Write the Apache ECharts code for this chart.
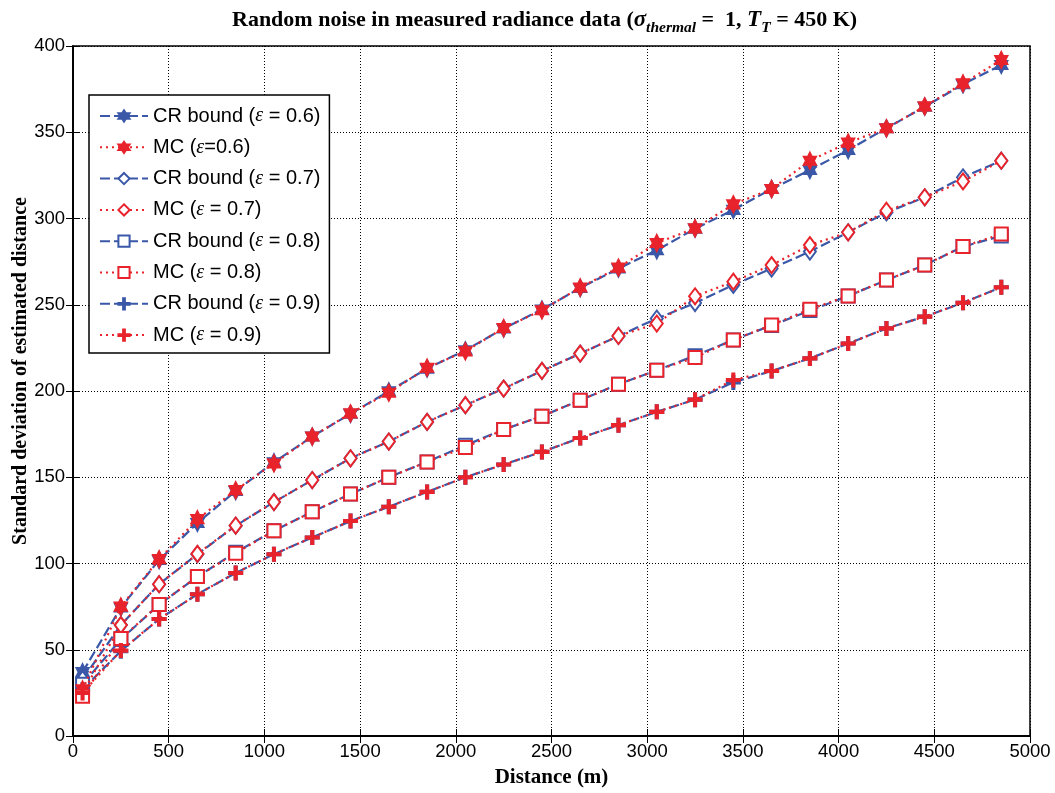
<!DOCTYPE html>
<html>
<head>
<meta charset="utf-8">
<script src="https://cdn.jsdelivr.net/npm/echarts@6/dist/echarts.min.js"></script>
<style>
  html, body { margin: 0; padding: 0; background: #fff; }
  #chart { width: 1055px; height: 793px; }
</style>
</head>
<body>
<div id="chart"></div>
<script>
  // distances (m)
  var distance = [50, 250, 450, 650, 850, 1050, 1250, 1450, 1650, 1850, 2050, 2250, 2450,
                  2650, 2850, 3050, 3250, 3450, 3650, 3850, 4050, 4250, 4450, 4650, 4850];

  var cr06 = [37, 74.5, 102, 123.5, 142, 158.7, 173.6, 186.8, 199.8, 213, 223.6, 236.2, 247.2,
              259.7, 271, 281.6, 294.1, 305, 317.1, 328.1, 339.7, 352.3, 364.8, 377.8, 389];
  var mc06 = [27, 75, 102.5, 125.7, 142.5, 158, 173.6, 187, 199, 213.5, 223, 236.5, 246.8,
              260, 271.5, 285.8, 294.3, 308.2, 317.1, 333.5, 344, 352.3, 365, 378.3, 391.9];
  var cr07 = [33, 64.3, 88, 105.4, 121.9, 135.6, 148.4, 161, 170.7, 182.1, 191.8, 201.4, 211.7,
              221.7, 231.9, 242, 251, 261.5, 271, 280.8, 292, 303.5, 312.3, 323.9, 333.5];
  var mc07 = [25, 64.3, 88, 105.6, 122, 135.6, 148.4, 161, 170.7, 182.1, 191.8, 201.4, 211.7,
              221.7, 231.9, 239.1, 254.9, 263.4, 273, 284.6, 292, 304.5, 312.3, 321.5, 333.5];
  var cr08 = [30, 56, 76.2, 92.4, 106.5, 119, 130, 140.3, 150, 158.9, 168.5, 177.7, 185.4,
              194.7, 203.9, 212, 220.5, 229.6, 238, 246.6, 255.1, 264.3, 273, 283.7, 289.9];
  var mc08 = [23, 56.5, 76.2, 92.4, 106, 119, 130, 140.3, 150, 158.9, 167.3, 177.7, 185.4,
              194.7, 203.9, 212, 219.4, 229.6, 238.3, 247.4, 255.1, 264.3, 273, 283.7, 291];
  var cr09 = [27, 49.2, 67.8, 82.2, 94.5, 105.4, 115.1, 124.6, 132.9, 141.5, 150, 157.4, 164.7,
              172.8, 180.2, 187.9, 195, 205, 211.6, 218.9, 227.5, 236.3, 243.1, 251.2, 260.1];
  var mc09 = [25, 49.5, 67.8, 82.2, 94.5, 105.4, 115.1, 124.6, 132.9, 141.5, 150, 157.4, 164.7,
              172.8, 180.2, 187.9, 195, 206.4, 211.6, 218.9, 227.5, 236.3, 243.1, 251.2, 260.1];

  var seriesNames = ['CR bound (ε = 0.6)', 'MC (ε=0.6)', 'CR bound (ε = 0.7)', 'MC (ε = 0.7)',
                     'CR bound (ε = 0.8)', 'MC (ε = 0.8)', 'CR bound (ε = 0.9)', 'MC (ε = 0.9)'];
  var seriesValues = [cr06, mc06, cr07, mc07, cr08, mc08, cr09, mc09];

  var xTicks = [0, 500, 1000, 1500, 2000, 2500, 3000, 3500, 4000, 4500, 5000];
  var yTicks = [0, 50, 100, 150, 200, 250, 300, 350, 400];

  var BLUE = '#3b58a8';
  var RED = '#e8232b';
  var star = 'path://M100,0L128.9,50L186.6,50L157.7,100L186.6,150L128.9,150L100,200L71.1,150L13.4,150L42.3,100L13.4,50L71.1,50Z';
  var plus = 'path://M42,0H58V42H100V58H58V100H42V58H0V42H42Z';
  var symbols = [star, star, 'emptyDiamond', 'emptyDiamond', 'emptyRect', 'emptyRect', plus, plus];
  var symbolSizes = [[14, 16], [14, 16], [12, 16], [12, 16], 13, 13, 13, 13];

  var myChart = echarts.init(document.getElementById('chart'));

  function pairs(vals) {
    var out = [];
    for (var i = 0; i < vals.length; i++) out.push([distance[i], vals[i]]);
    return out;
  }

  var series = [];
  for (var k = 0; k < seriesNames.length; k++) {
    var isMC = k % 2 === 1;
    var col = isMC ? RED : BLUE;
    series.push({
      name: seriesNames[k],
      type: 'line',
      data: pairs(seriesValues[k]),
      symbol: symbols[k],
      symbolSize: symbolSizes[k],
      symbolKeepAspect: true,
      showAllSymbol: true,
      lineStyle: { color: col, width: 2.2, type: isMC ? [2, 4] : [10, 4] },
      itemStyle: { color: col, borderColor: col, borderWidth: 2 },
      animation: false,
      z: isMC ? 3 : 2
    });
  }

  var serif = 'Liberation Serif';
  var sans = 'Liberation Sans';
  var plain = function(v) { return String(v); };

  var option = {
    backgroundColor: '#fff',
    title: {
      text: '{t|Random noise in measured radiance data (}{s|σ}{sub|thermal}{t| =  1, }{s|T}{sub|T}{t| = 450 K)}',
      left: 232,
      top: 4,
      padding: 0,
      textStyle: {
        rich: {
          t: { fontFamily: serif, fontWeight: 'bold', fontSize: 22, color: '#000', lineHeight: 24, verticalAlign: 'middle' },
          s: { fontFamily: serif, fontWeight: 'bold', fontStyle: 'italic', fontSize: 23, color: '#000', lineHeight: 24, verticalAlign: 'middle' },
          sub: { fontFamily: serif, fontWeight: 'bold', fontStyle: 'italic', fontSize: 15.5, color: '#000', lineHeight: 32, verticalAlign: 'bottom' }
        }
      }
    },
    legend: {
      orient: 'vertical',
      left: 89,
      top: 95,
      data: seriesNames,
      itemWidth: 48,
      itemHeight: 14,
      itemGap: 11.3,
      padding: [11, 9, 8, 10],
      backgroundColor: '#fff',
      borderColor: '#000',
      borderWidth: 1.5,
      borderRadius: 0,
      formatter: function(name) { return name.replace('ε', '{e|ε}'); },
      textStyle: {
        fontFamily: sans,
        fontSize: 20,
        lineHeight: 20,
        color: '#000',
        rich: {
          e: { fontFamily: serif, fontStyle: 'italic', fontSize: 20, lineHeight: 20, color: '#000' }
        }
      }
    },
    grid: { left: 73, right: 25, top: 46, bottom: 57, outerBoundsMode: 'none', show: true, borderColor: '#000', borderWidth: 1.5, backgroundColor: 'transparent' },
    xAxis: [{
      type: 'value',
      min: xTicks[0],
      max: xTicks[xTicks.length - 1],
      interval: 500,
      name: 'Distance (m)',
      nameLocation: 'middle',
      nameGap: 31,
      nameTextStyle: { fontFamily: serif, fontWeight: 'bold', fontSize: 21, color: '#000' },
      axisLine: { show: true, lineStyle: { color: '#000', width: 1.5 } },
      axisTick: { show: true, inside: true, length: 7, lineStyle: { color: '#000', width: 1 } },
      axisLabel: { fontFamily: sans, fontSize: 18.5, color: '#000', margin: 6, formatter: plain },
      splitLine: { show: true, lineStyle: { color: '#000', width: 1, type: [1, 2] } }
    }, {
      type: 'value',
      position: 'top',
      min: xTicks[0],
      max: xTicks[xTicks.length - 1],
      interval: 500,
      axisLine: { show: true, lineStyle: { color: '#000', width: 1.5 } },
      axisTick: { show: true, inside: true, length: 7, lineStyle: { color: '#000', width: 1 } },
      axisLabel: { show: false },
      splitLine: { show: false }
    }],
    yAxis: [{
      type: 'value',
      min: yTicks[0],
      max: yTicks[yTicks.length - 1],
      interval: 50,
      name: 'Standard deviation of estimated distance',
      nameLocation: 'middle',
      nameGap: 42,
      nameMoveOverlap: false,
      nameTextStyle: { fontFamily: serif, fontWeight: 'bold', fontSize: 20, color: '#000', padding: [0, 0, 0, 40] },
      axisLine: { show: true, lineStyle: { color: '#000', width: 1.5 } },
      axisTick: { show: true, inside: true, length: 7, lineStyle: { color: '#000', width: 1 } },
      axisLabel: { fontFamily: sans, fontSize: 18.5, color: '#000', margin: 8, formatter: plain },
      splitLine: { show: true, lineStyle: { color: '#000', width: 1, type: [1, 2] } }
    }, {
      type: 'value',
      position: 'right',
      min: yTicks[0],
      max: yTicks[yTicks.length - 1],
      interval: 50,
      axisLine: { show: true, lineStyle: { color: '#000', width: 1.5 } },
      axisTick: { show: true, inside: true, length: 7, lineStyle: { color: '#000', width: 1 } },
      axisLabel: { show: false },
      splitLine: { show: false }
    }],
    series: series
  };

  myChart.setOption(option);
  window.addEventListener('resize', function() {
    myChart.resize();
  });
</script>
</body>
</html>
